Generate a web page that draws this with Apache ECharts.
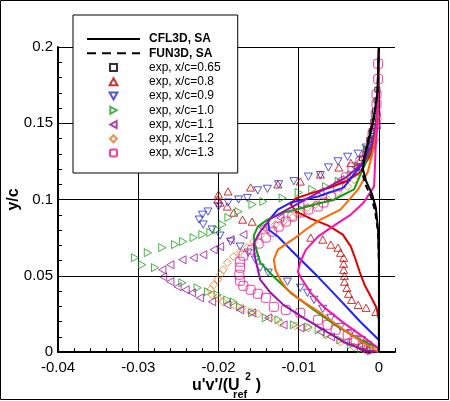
<!DOCTYPE html>
<html><head><meta charset="utf-8">
<script src="https://cdn.jsdelivr.net/npm/echarts@6/dist/echarts.min.js"></script>
<style>html,body{margin:0;padding:0;background:#fff}#c{width:450px;height:401px}</style>
</head><body><div id="c"></div>
<script>
// ---- data (x = u'v'/Uref^2, y = y/c) ----
const xTickLabels = ['-0.04', '-0.03', '-0.02', '-0.01', '0'];
const yTickLabels = ['0', '0.05', '0.1', '0.15', '0.2'];
const legendNames = ['CFL3D, SA', 'FUN3D, SA', 'exp, x/c=0.65', 'exp, x/c=0.8', 'exp, x/c=0.9', 'exp, x/c=1.0', 'exp, x/c=1.1', 'exp, x/c=1.2', 'exp, x/c=1.3'];

const exp065 = [[-0.0002,0.172],[-0.0003,0.165],[-0.0005,0.158],[-0.0007,0.151],[-0.0009,0.145],[-0.0012,0.139],[-0.0016,0.133],[-0.0021,0.127],[-0.0027,0.121]];
const exp08 = [[-0.0003,0.149],[-0.001,0.136],[-0.0023,0.126],[-0.0035,0.124],[-0.005,0.121],[-0.0073,0.1164],[-0.0098,0.1118],[-0.0126,0.1099],[-0.016,0.1079],[-0.0188,0.1053],[-0.020,0.1033],[-0.0201,0.100],[-0.0198,0.098],[-0.0189,0.0954],[-0.0181,0.0914],[-0.017,0.0868],[-0.0158,0.0855],[-0.0085,0.075],[-0.007,0.0737],[-0.006,0.0704],[-0.0051,0.0684],[-0.0048,0.0651],[-0.0044,0.0618],[-0.0044,0.0579],[-0.0044,0.0539],[-0.0043,0.05],[-0.0043,0.0461],[-0.004,0.0421],[-0.0038,0.0382],[-0.0034,0.0342],[-0.0026,0.0309],[-0.0016,0.029],[-0.0004,0.0263]];
const exp09 = [[-0.0003,0.153],[-0.0008,0.143],[-0.0016,0.134],[-0.0026,0.130],[-0.0039,0.128],[-0.0051,0.125],[-0.0063,0.121],[-0.0073,0.116],[-0.0088,0.115],[-0.0106,0.112],[-0.0125,0.110],[-0.0139,0.107],[-0.0151,0.106],[-0.0164,0.101],[-0.0175,0.100],[-0.0188,0.098],[-0.020,0.0954],[-0.0213,0.0921],[-0.022,0.090],[-0.0224,0.0868],[-0.0219,0.0836],[-0.0208,0.0803],[-0.0198,0.0763],[-0.0185,0.0724],[-0.0173,0.0691],[-0.0163,0.0651],[-0.0154,0.0605],[-0.0148,0.0553],[-0.0138,0.052],[-0.0114,0.0461],[-0.0098,0.0421],[-0.0089,0.0388],[-0.0081,0.0342],[-0.007,0.0283],[-0.006,0.0224],[-0.0048,0.0164],[-0.0035,0.0125],[-0.0022,0.0079],[-0.0014,0.0046]];
const exp10 = [[-0.0004,0.153],[-0.0008,0.143],[-0.0015,0.133],[-0.0026,0.122],[-0.0035,0.116],[-0.005,0.112],[-0.0066,0.1085],[-0.0083,0.1066],[-0.010,0.1046],[-0.012,0.101],[-0.0144,0.0987],[-0.01575,0.0967],[-0.0175,0.0921],[-0.01875,0.0882],[-0.0195,0.0836],[-0.0201,0.0803],[-0.021,0.0783],[-0.022,0.077],[-0.0231,0.075],[-0.0244,0.0724],[-0.0254,0.0704],[-0.027,0.0684],[-0.0288,0.0651],[-0.0304,0.0618],[-0.0295,0.0572],[-0.0279,0.0553],[-0.0245,0.0454],[-0.0226,0.0421],[-0.0213,0.0395],[-0.0201,0.0375],[-0.0189,0.0342],[-0.0181,0.0329],[-0.0173,0.0296],[-0.0158,0.0257],[-0.0141,0.0224],[-0.0125,0.0211],[-0.0106,0.0178],[-0.0088,0.0164],[-0.0075,0.0145],[-0.0064,0.0118],[-0.0048,0.0079],[-0.0035,0.0046],[-0.0022,0.002],[-0.001,0.0007]];
const exp11 = [[-0.0003,0.149],[-0.0008,0.139],[-0.0016,0.130],[-0.0029,0.121],[-0.0048,0.113],[-0.0073,0.105],[-0.0098,0.0967],[-0.0123,0.088],[-0.0145,0.0816],[-0.0169,0.077],[-0.0185,0.0737],[-0.0198,0.0691],[-0.0206,0.0671],[-0.0219,0.0638],[-0.0231,0.0618],[-0.0245,0.0605],[-0.026,0.0572],[-0.027,0.0539],[-0.0269,0.0493],[-0.026,0.0461],[-0.0251,0.0428],[-0.0241,0.0408],[-0.0233,0.0388],[-0.0223,0.0355],[-0.0208,0.0329],[-0.0189,0.0309],[-0.0173,0.0276],[-0.0158,0.0257],[-0.0138,0.0224],[-0.0119,0.0178],[-0.0098,0.0158],[-0.0073,0.0132],[-0.006,0.0099],[-0.0041,0.0066],[-0.0025,0.0033],[-0.0016,0.0013]];
const exp12 = [[-0.0001,0.153],[-0.0005,0.139],[-0.0013,0.128],[-0.0025,0.118],[-0.0031,0.113],[-0.0039,0.1086],[-0.0051,0.1046],[-0.0064,0.100],[-0.0079,0.0967],[-0.0089,0.0947],[-0.0098,0.0914],[-0.0108,0.0882],[-0.0119,0.0855],[-0.0129,0.0836],[-0.0139,0.0803],[-0.0148,0.0763],[-0.0156,0.0724],[-0.0164,0.0684],[-0.0173,0.0658],[-0.0181,0.0625],[-0.0189,0.0586],[-0.0194,0.0539],[-0.0198,0.0507],[-0.0201,0.0474],[-0.0206,0.0441],[-0.021,0.0408],[-0.0208,0.0375],[-0.0201,0.0355],[-0.0194,0.0329],[-0.0181,0.0309],[-0.017,0.029],[-0.016,0.0263],[-0.0151,0.025],[-0.0135,0.0224],[-0.0123,0.0191],[-0.0104,0.0171],[-0.0088,0.0158],[-0.0066,0.0112],[-0.0048,0.0066],[-0.0031,0.0033],[-0.002,0.002]];
const exp13 = [[-0.0001,0.189],[-0.0001,0.179],[-0.0003,0.169],[-0.0003,0.1625],[-0.0004,0.156],[-0.0005,0.149],[-0.0008,0.143],[-0.001,0.136],[-0.0015,0.130],[-0.0023,0.125],[-0.0033,0.121],[-0.0041,0.1145],[-0.0051,0.1086],[-0.006,0.102],[-0.0069,0.098],[-0.0076,0.0954],[-0.0088,0.0934],[-0.0098,0.0914],[-0.0108,0.0888],[-0.0116,0.0855],[-0.0125,0.0822],[-0.0133,0.0789],[-0.0141,0.075],[-0.015,0.0711],[-0.0158,0.0671],[-0.0169,0.0632],[-0.0173,0.0592],[-0.0173,0.0553],[-0.0174,0.0507],[-0.0173,0.0467],[-0.0169,0.0434],[-0.016,0.0408],[-0.0151,0.0382],[-0.0141,0.0355],[-0.0131,0.0296],[-0.0116,0.0276],[-0.0098,0.0257],[-0.0076,0.0211],[-0.0064,0.0178],[-0.0054,0.0145],[-0.0039,0.0112],[-0.0029,0.0079],[-0.002,0.0046],[-0.0013,0.002]];

const cfl065 = [[0,0.2],[-0.0002,0.17],[-0.0006,0.155],[-0.0012,0.14],[-0.0018,0.128],[-0.002,0.12],[-0.0016,0.112],[-0.0009,0.104],[-0.0004,0.095],[-0.0001,0.08],[0,0.06],[0,0]];
const fun065 = [[0,0.2],[-0.0002,0.168],[-0.0007,0.152],[-0.0014,0.138],[-0.0019,0.126],[-0.0021,0.118],[-0.0017,0.11],[-0.001,0.102],[-0.0005,0.093],[-0.0001,0.078],[0,0.058],[0,0]];
const cfl08 = [[0,0.2],[-0.0001,0.166],[-0.0004,0.146],[-0.001,0.13],[-0.0023,0.118],[-0.0041,0.112],[-0.006,0.108],[-0.0085,0.104],[-0.0104,0.1007],[-0.011,0.0967],[-0.0103,0.0921],[-0.0085,0.0875],[-0.0063,0.0829],[-0.0045,0.077],[-0.0035,0.0691],[-0.0029,0.0605],[-0.0024,0.0526],[-0.0018,0.0441],[-0.001,0.0362],[-0.0003,0.029],[0,0.021],[0,0]];
const cfl09 = [[0,0.2],[-0.0001,0.17],[-0.0003,0.15],[-0.001,0.135],[-0.0023,0.122],[-0.0044,0.1078],[-0.0076,0.102],[-0.011,0.098],[-0.0126,0.0934],[-0.0138,0.086],[-0.0137,0.08],[-0.0126,0.0757],[-0.011,0.0671],[-0.0076,0.0493],[-0.0051,0.0355],[-0.0023,0.0197],[0,0.0079],[0,0]];
const cfl10 = [[0,0.2],[-0.0001,0.17],[-0.0003,0.15],[-0.0008,0.137],[-0.0016,0.125],[-0.0031,0.1066],[-0.0056,0.100],[-0.0089,0.0954],[-0.0119,0.0914],[-0.0139,0.0868],[-0.0151,0.0822],[-0.0156,0.0763],[-0.0155,0.0711],[-0.0148,0.0586],[-0.0131,0.0493],[-0.011,0.0388],[-0.0081,0.0276],[-0.0051,0.0164],[-0.0023,0.0079],[-0.0001,0.0026],[0,0]];
const cfl11 = [[0,0.2],[-0.0001,0.17],[-0.0003,0.15],[-0.0008,0.137],[-0.0018,0.125],[-0.0041,0.1145],[-0.0073,0.1053],[-0.011,0.0947],[-0.0135,0.0875],[-0.0148,0.0789],[-0.0156,0.0711],[-0.0155,0.0632],[-0.0148,0.0474],[-0.0135,0.0388],[-0.0119,0.0309],[-0.0094,0.0224],[-0.0069,0.0145],[-0.0044,0.0066],[-0.0019,0.0013],[0,0]];
const cfl12 = [[0,0.2],[-0.0001,0.17],[-0.0002,0.15],[-0.0006,0.135],[-0.0014,0.1178],[-0.0026,0.1066],[-0.0048,0.0934],[-0.0073,0.0868],[-0.0091,0.0803],[-0.0104,0.075],[-0.0126,0.0671],[-0.0131,0.0605],[-0.0129,0.0539],[-0.0123,0.0474],[-0.0114,0.0408],[-0.0098,0.0342],[-0.0073,0.0257],[-0.0044,0.0145],[-0.0019,0.0059],[0,0]];
const cfl13 = [[0,0.2],[-0.0001,0.17],[-0.0002,0.15],[-0.0004,0.135],[-0.0006,0.1086],[-0.0019,0.098],[-0.0035,0.0901],[-0.0056,0.0829],[-0.0076,0.0757],[-0.0091,0.0671],[-0.0098,0.0592],[-0.0101,0.0526],[-0.0098,0.0493],[-0.0085,0.0388],[-0.0069,0.0296],[-0.0044,0.0191],[-0.0023,0.0112],[-0.0001,0.0026],[0,0]];

// ---- chart ----
const FONT = 'Liberation Sans';
const SYM = {
  square: 'path://M0,0H10V10H0Z',
  up: 'path://M5,0L10,9L0,9Z',
  down: 'path://M0,0L10,0L5,9Z',
  right: 'path://M0,0L9,5L0,10Z',
  left: 'path://M9,0L0,5L9,10Z',
  diamond: 'path://M5,0L10,5L5,10L0,5Z',
  round: 'path://M2.5,0H7.5A2.5,2.5,0,0,1,10,2.5V7.5A2.5,2.5,0,0,1,7.5,10H2.5A2.5,2.5,0,0,1,0,7.5V2.5A2.5,2.5,0,0,1,2.5,0Z'
};
const solidIcon = 'path://M0,0H53V2H0Z';
const dashIcon = 'path://M0,0H9V2H0Z M15,0H24V2H15Z M30,0H39V2H30Z M45,0H53V2H45Z';
function expSeries(name, data, symbol, size, color) {
  return { name, type: 'scatter', data, symbol, symbolSize: size, symbolKeepAspect: true,
    itemStyle: { color: 'rgba(0,0,0,0)', borderColor: color, borderWidth: 1 }, z: 3 };
}
function lineSeries(name, data, color, dashed) {
  return { name, type: 'line', data, symbol: 'none', showSymbol: false, z: 4,
    lineStyle: { color, width: 2, type: dashed ? [6, 4] : 'solid' }, itemStyle: { color } };
}
const series = [
  expSeries(legendNames[2], exp065, SYM.square, 5, '#000000'),
  expSeries(legendNames[3], exp08, SYM.up, 8, '#c00000'),
  expSeries(legendNames[4], exp09, SYM.down, 8, '#2a2ad0'),
  expSeries(legendNames[5], exp10, SYM.right, 8, '#18a018'),
  expSeries(legendNames[6], exp11, SYM.left, 8, '#9a109a'),
  expSeries(legendNames[7], exp12, SYM.diamond, 8, '#e07820'),
  expSeries(legendNames[8], exp13, SYM.round, 9, '#e8108f'),
  lineSeries('CFL3D 0.8', cfl08, '#e00000'),
  lineSeries('CFL3D 0.9', cfl09, '#2020ff'),
  lineSeries('CFL3D 1.0', cfl10, '#10a010'),
  lineSeries('CFL3D 1.1', cfl11, '#9a10b0'),
  lineSeries('CFL3D 1.2', cfl12, '#ff6a00'),
  lineSeries('CFL3D 1.3', cfl13, '#ff10a8'),
  lineSeries(legendNames[1], fun065, '#000000', true),
  lineSeries(legendNames[0], cfl065, '#000000', false)
];
series.forEach(s => { s.xAxisIndex = 0; s.yAxisIndex = 0; });

const chart = echarts.init(document.getElementById('c'), null, { renderer: 'canvas' });
chart.setOption({
  animation: false,
  backgroundColor: '#ffffff',
  textStyle: { fontFamily: FONT },
  graphic: [{ type: 'rect', shape: { x: 0.5, y: 0.5, width: 448, height: 399 },
    style: { fill: 'none', stroke: '#000', lineWidth: 1 }, z: 100 }],
  grid: { left: 58, right: 55, top: 47, bottom: 49, containLabel: false, outerBoundsMode: 'none' },
  legend: {
    orient: 'vertical', left: 73, top: 15,
    padding: [17, 17, 13, 14],
    itemWidth: 53, itemHeight: 7, itemGap: 0.25, symbolKeepAspect: true, symbolRotate: 0,
    backgroundColor: '#ffffff', borderColor: '#000000', borderWidth: 1, borderRadius: 0,
    textStyle: { fontFamily: FONT, fontSize: 12, color: '#000', lineHeight: 14, padding: [0, 0, 0, 4] },
    data: legendNames.map((n, i) => i < 2
      ? { name: n, icon: i === 0 ? solidIcon : dashIcon, itemStyle: { color: '#000', borderWidth: 0 }, textStyle: { fontWeight: 'bold' } }
      : { name: n }),
    selectedMode: false, z: 10
  },
  xAxis: [
    { type: 'value', min: -0.04, max: 0.002, interval: 0.002, position: 'bottom',
      axisLine: { show: true, onZero: false, lineStyle: { color: '#000', width: 2 } },
      axisTick: { show: true, inside: true, length: 4, lineStyle: { color: '#000', width: 1 } },
      axisLabel: { show: false }, splitLine: { show: false } },
    { type: 'value', min: -0.04, max: 0.002, interval: 0.01, position: 'bottom',
      axisLine: { show: false, onZero: false },
      axisTick: { show: false },
      axisLabel: { show: true, margin: 8, fontSize: 15, color: '#000', fontFamily: FONT,
        showMaxLabel: false,
        formatter: v => { const k = Math.round((v + 0.04) / 0.01); return Math.abs(v - (-0.04 + k * 0.01)) < 1e-9 ? (xTickLabels[k] || '') : ''; } },
      splitLine: { show: true, showMinLine: false, showMaxLine: false, lineStyle: { color: '#000', width: 1 } },
      name: "{a|u'v'/(U}{sub|ref}{sup|2}{a|)}", nameLocation: 'middle', nameGap: 20, nameMoveOverlap: false,
      nameTextStyle: { rich: {
        a: { fontFamily: FONT, fontSize: 16, fontWeight: 'bold', color: '#000', lineHeight: 28, verticalAlign: 'middle' },
        sub: { fontFamily: FONT, fontSize: 11, fontWeight: 'bold', color: '#000', lineHeight: 20, verticalAlign: 'bottom', width: 1, align: 'left' },
        sup: { fontFamily: FONT, fontSize: 10, fontWeight: 'bold', color: '#000', lineHeight: 11, verticalAlign: 'top', width: 15, align: 'center' }
      } } }
  ],
  yAxis: [{
    type: 'value', min: 0, max: 0.2, interval: 0.05,
    axisLine: { show: true, onZero: false, lineStyle: { color: '#000', width: 2 } },
    axisTick: { show: true, inside: true, length: 8, lineStyle: { color: '#000', width: 1 } },
    minorTick: { show: true, splitNumber: 5, length: 4, lineStyle: { color: '#000', width: 1 } },
    axisLabel: { margin: 5, fontSize: 15, color: '#000', fontFamily: FONT,
      formatter: v => yTickLabels[Math.round(v / 0.05)] },
    splitLine: { show: true, showMinLine: false, lineStyle: { color: '#000', width: 1 } },
    name: 'y/c', nameLocation: 'middle', nameGap: 44, nameRotate: 90, nameMoveOverlap: false,
    nameTextStyle: { fontFamily: FONT, fontSize: 16, fontWeight: 'bold', color: '#000', align: 'center', verticalAlign: 'middle' }
  }],
  series
});
</script></body></html>
